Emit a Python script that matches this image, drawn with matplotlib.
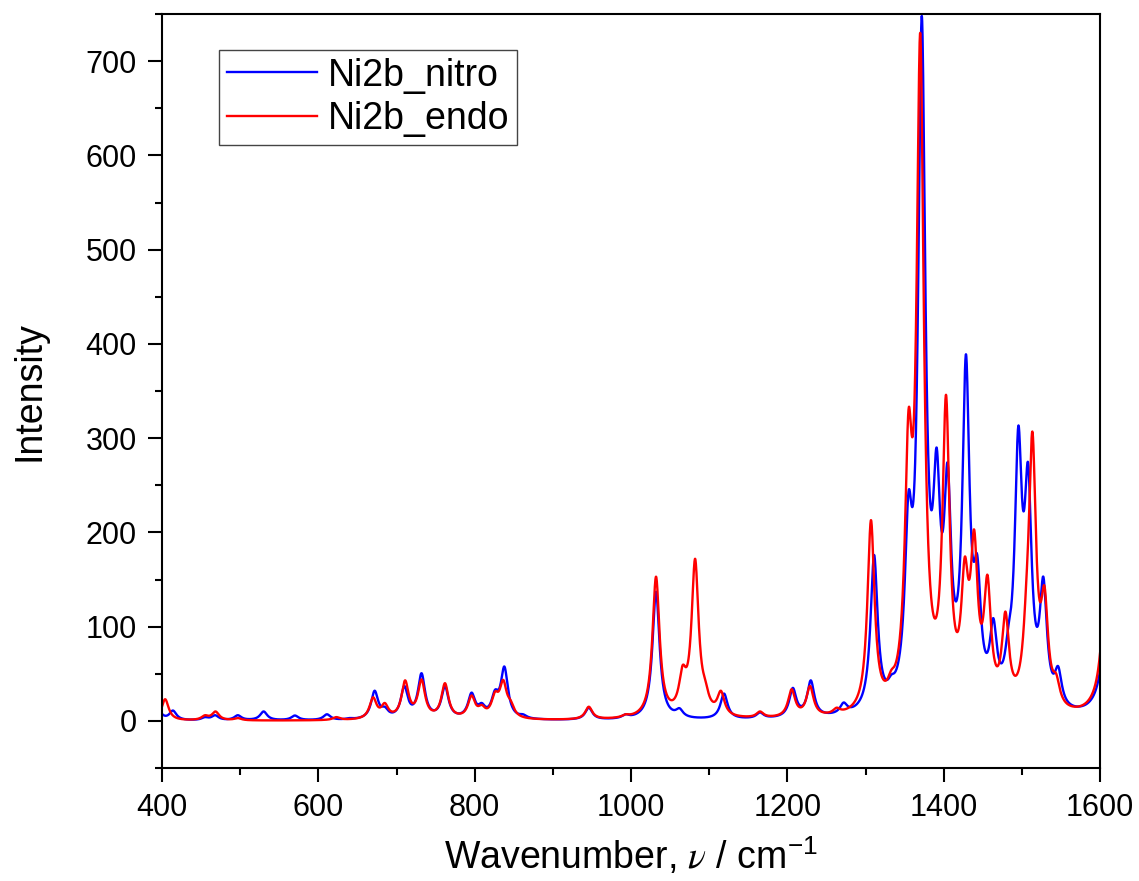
import numpy as np
import matplotlib
matplotlib.use("Agg")
import matplotlib.pyplot as plt
from matplotlib.ticker import MultipleLocator

# ---- data (peak positions / apparent heights) ----
nitro_pos = [396, 414, 455, 468, 497, 530, 570, 611, 640, 672, 685, 710, 732, 762,
             796, 809, 826, 838, 862, 946, 993, 1032, 1062, 1119, 1165, 1207, 1230,
             1272, 1311, 1333, 1355, 1372, 1391, 1405, 1428.5, 1443, 1463.5, 1483,
             1495.5, 1508, 1527.5, 1546.5, 1615]
nitro_int = [10, 11, 4, 6, 6, 10, 5.7, 7, 3, 32, 15, 37, 50.6, 37,
             30, 19, 33, 57.7, 7, 14, 7, 137, 13.5, 29, 9, 35, 43,
             19.5, 176, 49, 243, 748, 290, 274, 389, 176, 109, 102,
             313, 274, 153, 58, 420]

endo_pos = [404, 455, 468.5, 497, 623, 670, 685, 711, 732, 762, 796, 809, 826,
            836.5, 846, 946, 993, 1032, 1066, 1082, 1095, 1115, 1165, 1205.5,
            1229, 1263, 1307, 1333, 1355, 1370, 1403, 1427, 1439, 1456, 1479,
            1506, 1513.5, 1529, 1544, 1613]
endo_int = [23, 6, 10, 3, 4, 25, 19, 43, 44, 40, 27, 17, 31,
            43.5, 22, 15, 7, 153, 59, 172, 43.5, 32, 10, 33.6,
            37, 14, 213, 54, 330, 730, 346, 174, 203, 155, 116,
            153, 307, 143, 50, 450]

series_labels = ["Ni2b_nitro", "Ni2b_endo"]
x_ticks = [400, 600, 800, 1000, 1200, 1400, 1600]
y_ticks = [0, 100, 200, 300, 400, 500, 600, 700]

HWHM = 5.5  # Lorentzian half width used for broadening


def spectrum(pos, hts, grid):
    pos = np.asarray(pos, float)
    hts = np.asarray(hts, float)
    A = 1.0 / (1.0 + ((pos[:, None] - pos[None, :]) / HWHM) ** 2)
    amp = hts.copy()
    for _ in range(400):
        amp = np.clip(amp + 0.5 * (hts - A @ amp), 0, None)
    L = 1.0 / (1.0 + ((grid[:, None] - pos[None, :]) / HWHM) ** 2)
    return L @ amp


wn = np.arange(400, 1600.01, 0.25)
y_nitro = spectrum(nitro_pos, nitro_int, wn)
y_endo = spectrum(endo_pos, endo_int, wn)

plt.rcParams['font.family'] = ['Liberation Sans', 'DejaVu Sans']
plt.rcParams['mathtext.fontset'] = 'stix'

fig = plt.figure(figsize=(11.39, 8.81), dpi=100)
ax = fig.add_axes([162 / 1139, 1 - 768 / 881, 938 / 1139, 754 / 881])

ax.plot(wn, y_nitro, color='#0000FF', lw=1.7, label=series_labels[0])
ax.plot(wn, y_endo, color='#FF0000', lw=1.7, label=series_labels[1])

ax.set_xlim(400, 1600)
ax.set_ylim(-50, 750)
ax.set_xticks(x_ticks)
ax.set_yticks(y_ticks)
ax.xaxis.set_minor_locator(MultipleLocator(100))
ax.yaxis.set_minor_locator(MultipleLocator(50))
ax.tick_params(which='both', direction='out', width=1.5, top=False, right=False)
ax.tick_params(which='major', length=10, labelsize=22, pad=8)
ax.tick_params(which='minor', length=5)
for s in ax.spines.values():
    s.set_linewidth(1.5)

ax.set_xlabel(r'Wavenumber, $\nu$ / cm$^{\mathregular{-1}}$', fontsize=27)
ax.set_ylabel('Intensity', fontsize=27)
ax.xaxis.set_label_coords(0.5, (768 - 836) / 754)
ax.yaxis.set_label_coords((48 - 162) / 938, 0.5)

leg = ax.legend(loc='upper left', bbox_to_anchor=((219 - 162) / 938, (768 - 50) / 754),
                borderaxespad=0, fontsize=27, handlelength=2.4, handletextpad=0.3,
                labelspacing=0.2, borderpad=0.2, fancybox=False, framealpha=1)
leg.get_frame().set_edgecolor('#444444')
leg.get_frame().set_linewidth(1.0)

fig.savefig('out.png', dpi=100)
